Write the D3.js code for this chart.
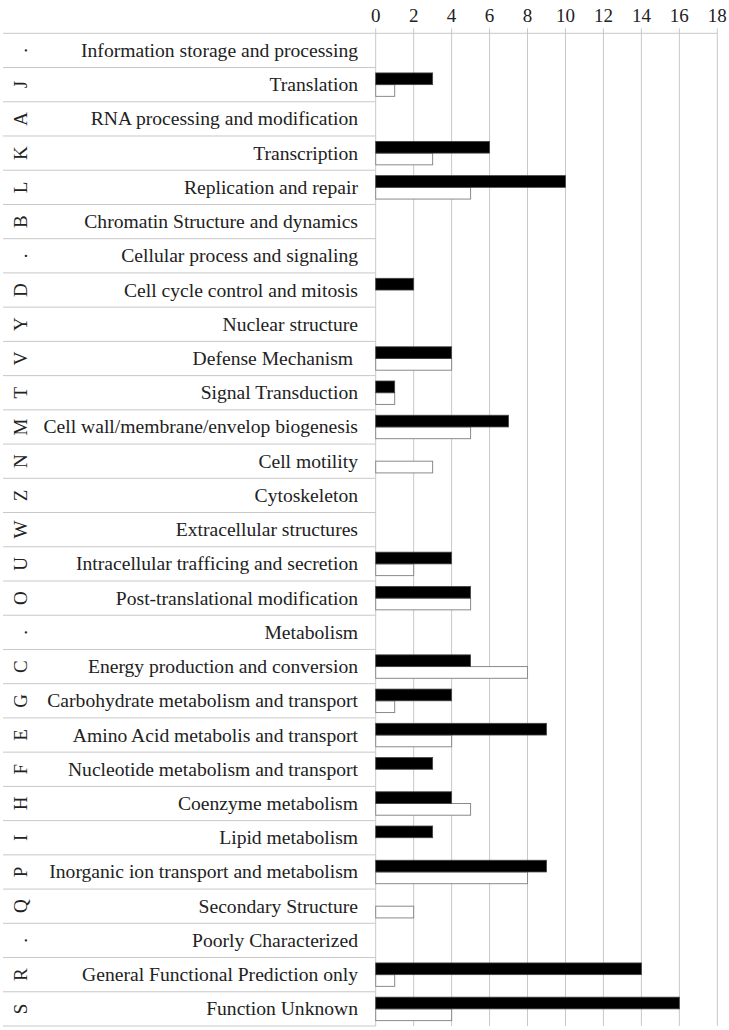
<!DOCTYPE html>
<html><head><meta charset="utf-8">
<script src="https://cdn.jsdelivr.net/npm/d3@7"></script>
<style>body{margin:0;background:#fff}svg{display:block}</style>
</head><body>
<svg id="c" width="729" height="1030"></svg>
<script>
const codes = [".","J","A","K","L","B",".","D","Y","V","T","M","N","Z","W","U","O",".","C","G","E","F","H","I","P","Q",".","R","S"];
const categories = ["Information storage and processing","Translation","RNA processing and modification","Transcription","Replication and repair","Chromatin Structure and dynamics","Cellular process and signaling","Cell cycle control and mitosis","Nuclear structure","Defense Mechanism ","Signal Transduction","Cell wall/membrane/envelop biogenesis","Cell motility","Cytoskeleton","Extracellular structures","Intracellular trafficing and secretion","Post-translational modification","Metabolism","Energy production and conversion","Carbohydrate metabolism and transport","Amino Acid metabolis and transport","Nucleotide metabolism and transport","Coenzyme metabolism","Lipid metabolism","Inorganic ion transport and metabolism","Secondary Structure","Poorly Characterized","General Functional Prediction only","Function Unknown"];
const seriesA = [0,3,0,6,10,0,0,2,0,4,1,7,0,0,0,4,5,0,5,4,9,3,4,3,9,0,0,14,16];
const seriesB = [0,1,0,3,5,0,0,0,0,4,1,5,3,0,0,2,5,0,8,1,4,0,5,0,8,2,0,1,4];
const ticks = [0,2,4,6,8,10,12,14,16,18];

const svg = d3.select("#c");
const yTop = 33.3, yBot = 1026, x0 = 375.7, x1 = 717.3;
const y = d3.scaleBand().domain(d3.range(categories.length)).range([yTop, yBot]).padding(0);
const x = d3.scaleLinear().domain([0, 18]).range([x0, x1]);
const sub = d3.scaleBand().domain(["a","b"]).range([0, y.bandwidth()]).paddingOuter(0.46).paddingInner(0);
const font = "'Liberation Serif','Times New Roman',serif";
const grid = "#c8c8c8";

// gridlines
svg.append("g").selectAll("line").data(ticks).join("line")
  .attr("x1", d => x(d)).attr("x2", d => x(d))
  .attr("y1", yTop - 5).attr("y2", yBot)
  .attr("stroke", grid).attr("stroke-width", 1);

// row separator lines
const bounds = d3.range(categories.length + 1).map(i => i < categories.length ? y(i) : yBot);
svg.append("g").selectAll("line").data(bounds).join("line")
  .attr("x1", 3).attr("x2", (d, i) => i === 0 ? x1 : x0)
  .attr("y1", d => d).attr("y2", d => d)
  .attr("stroke", grid).attr("stroke-width", 1);

// tick labels
svg.append("g").selectAll("text").data(ticks).join("text")
  .attr("x", d => x(d)).attr("y", 22)
  .attr("text-anchor", "middle")
  .attr("font-family", font).attr("font-size", 19).attr("fill", "#222")
  .text(d => d);

// category labels
svg.append("g").selectAll("text").data(categories).join("text")
  .attr("x", 358).attr("y", (d, i) => y(i) + y.bandwidth() / 2 + 6.5)
  .attr("text-anchor", "end")
  .attr("font-family", font).attr("font-size", 19.6).attr("fill", "#222")
  .attr("xml:space", "preserve")
  .text(d => d);

// code letters, rotated
svg.append("g").selectAll("text").data(codes).join("text")
  .attr("transform", (d, i) => `translate(27,${y(i) + y.bandwidth() / 2}) rotate(-90)`)
  .attr("text-anchor", "middle")
  .attr("font-family", font).attr("font-size", 19).attr("fill", "#222")
  .text(d => d);

// bars
const rowsA = seriesA.map((v, i) => ({v, i})).filter(d => d.v > 0);
const rowsB = seriesB.map((v, i) => ({v, i})).filter(d => d.v > 0);
const g = svg.append("g");
g.selectAll("rect.b").data(rowsB).join("rect").attr("class", "b")
  .attr("x", x(0)).attr("y", d => y(d.i) + sub("b"))
  .attr("width", d => x(d.v) - x(0)).attr("height", sub.bandwidth())
  .attr("fill", "#fff").attr("stroke", "#8a8a8a").attr("stroke-width", 1);
g.selectAll("rect.a").data(rowsA).join("rect").attr("class", "a")
  .attr("x", x(0)).attr("y", d => y(d.i) + sub("a"))
  .attr("width", d => x(d.v) - x(0)).attr("height", sub.bandwidth())
  .attr("fill", "#000").attr("stroke", "#444").attr("stroke-width", 0.8);
</script>
</body></html>
